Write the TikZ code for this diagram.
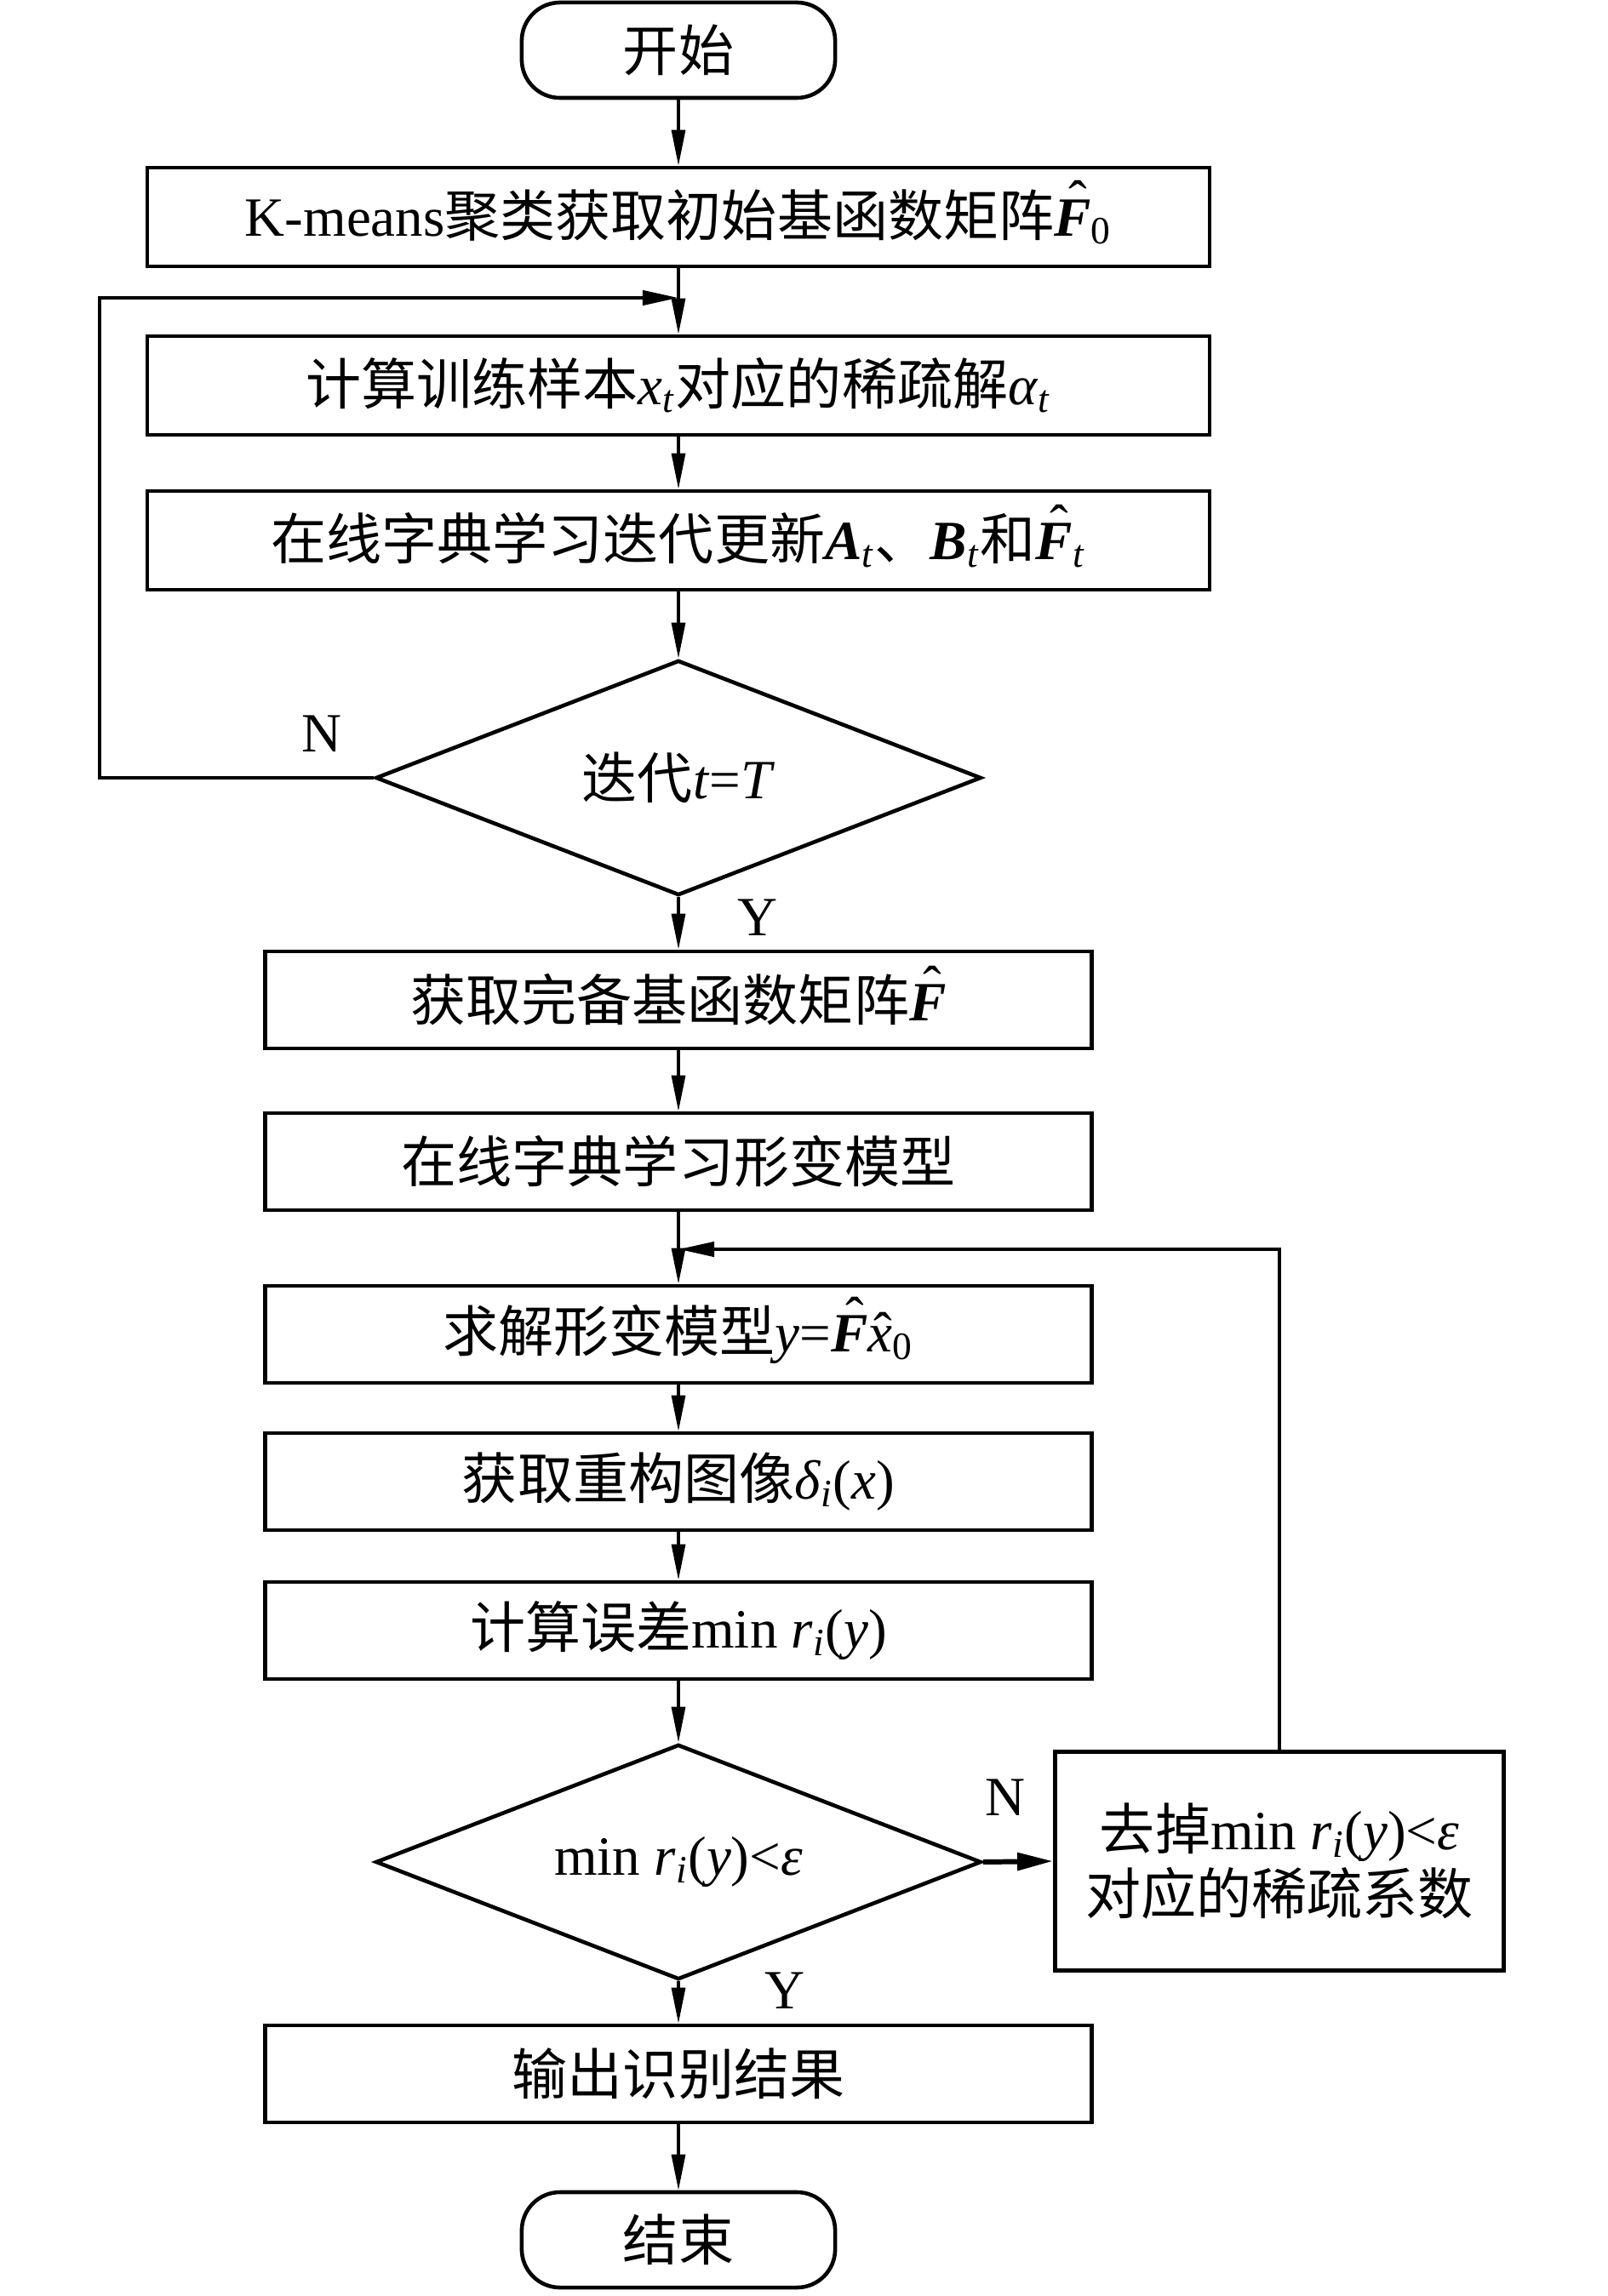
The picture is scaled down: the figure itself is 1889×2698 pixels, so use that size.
\documentclass[tikz,border=0pt]{standalone}
\usepackage{fontspec}
\setmainfont{Liberation Serif}
\newfontfamily\cjk{Noto Sans CJK SC}
\usetikzlibrary{shapes.geometric,arrows.meta}
\newcommand\zh[1]{{\cjk #1}}
\newcommand\vi[1]{\textit{#1}}
\newcommand\vb[1]{\textbf{\textit{#1}}}
\newcommand\sub[1]{\textsubscript{\textit{#1}}}
\newcommand\hatF{\ooalign{\vb{F}\cr\hidewidth\kern0.18em\raisebox{0.3em}{ˆ}\hidewidth\cr}}
\newcommand\hatx{\ooalign{\vi{x}\cr\hidewidth\kern0.08em\raisebox{0.02em}{ˆ}\hidewidth\cr}}
\begin{document}
\begin{tikzpicture}[x=0.01cm,y=-0.01cm,
  every node/.style={font=\fontsize{18.5pt}{22pt}\selectfont, inner sep=2pt},
  term/.style={draw, line width=1.3pt, rounded corners=0.45cm, minimum width=3.68cm, minimum height=1.12cm},
  box/.style={draw, line width=1.3pt, minimum height=1.14cm},
  widebox/.style={box, minimum width=12.47cm, minimum height=1.16cm},
  narrowbox/.style={box, minimum width=9.70cm},
  dia/.style={draw, diamond, shape aspect=2.58, line width=1.3pt, minimum width=7.11cm, minimum height=2.76cm, inner sep=0pt},
  arr/.style={line width=0.9pt, -{Triangle[length=0.42cm,width=0.16cm]}},
  loopline/.style={line width=1.2pt, -{Triangle[length=0.42cm,width=0.17cm]}},
  lbl/.style={inner sep=0pt}
]
\useasboundingbox (0,0) rectangle (1889,2698);

\node[term] (start) at (797,59) {\zh{开始}};
\node[widebox] (b1) at (797,255) {K-means\zh{聚类获取初始基函数矩阵}\hatF\textsubscript{0}};
\node[widebox] (b2) at (797,453) {\zh{计算训练样本}\vi{x}\sub{t}\zh{对应的稀疏解}\vi{α}\sub{t}};
\node[widebox] (b3) at (797,635) {\zh{在线字典学习迭代更新}\vb{A}\sub{t}\zh{、}\vb{B}\sub{t}\zh{和}\hatF\sub{t}};
\node[dia] (d1) at (797,914) {\zh{迭代}\vi{t}=\vi{T}};
\node[narrowbox] (b4) at (797,1175) {\zh{获取完备基函数矩阵}\hatF};
\node[narrowbox] (b5) at (797,1365) {\zh{在线字典学习形变模型}};
\node[narrowbox] (b6) at (797,1568) {\zh{求解形变模型}\vi{y}=\hatF\hatx\textsubscript{0}};
\node[narrowbox] (b7) at (797,1741) {\zh{获取重构图像}\vi{δ}\sub{i}(\vi{x})};
\node[narrowbox] (b8) at (797,1916) {\zh{计算误差}min \vi{r}\sub{i}(\vi{y})};
\node[dia] (d2) at (797,2188) {min \vi{r}\sub{i}(\vi{y})<\vi{ε}};
\node[box, minimum width=5.27cm, minimum height=2.57cm, align=center,
      font=\fontsize{18.5pt}{21.6pt}\selectfont] (rb) at (1503,2187)
      {\zh{去掉}min \vi{r}\sub{i}(\vi{y})<\vi{ε}\\\zh{对应的稀疏系数}};
\node[narrowbox] (b9) at (797,2437) {\zh{输出识别结果}};
\node[term] (end) at (797,2632) {\zh{结束}};

\coordinate (j1) at (797,350);
\coordinate (j2) at (797,1468);
\coordinate (l1) at (117,914);
\coordinate (l2) at (117,350);

\draw[arr] (start) -- (b1);
\draw[arr] (b1) -- (b2);
\draw[arr] (b2) -- (b3);
\draw[arr] (b3) -- (d1);
\draw[arr] (d1) -- (b4);
\draw[loopline] (d1.west) -- (l1) -- (l2) -- (j1);
\draw[arr] (b4) -- (b5);
\draw[arr] (b5) -- (b6);
\draw[arr] (b6) -- (b7);
\draw[arr] (b7) -- (b8);
\draw[arr] (b8) -- (d2);
\draw[arr] (d2) -- (b9);
\draw[arr] (b9) -- (end);
\draw[line width=1.7pt, -{Triangle[length=0.42cm,width=0.2cm]}] (d2.east) -- (rb.west);
\draw[loopline] (rb.north) -- (rb.north |- j2) -- (j2);

\node[lbl] (n1) at (378,862) {N};
\node[lbl] (y1) at (890,1078) {Y};
\node[lbl] (n2) at (1181,2112) {N};
\node[lbl] (y2) at (922,2339) {Y};
\end{tikzpicture}
\end{document}
